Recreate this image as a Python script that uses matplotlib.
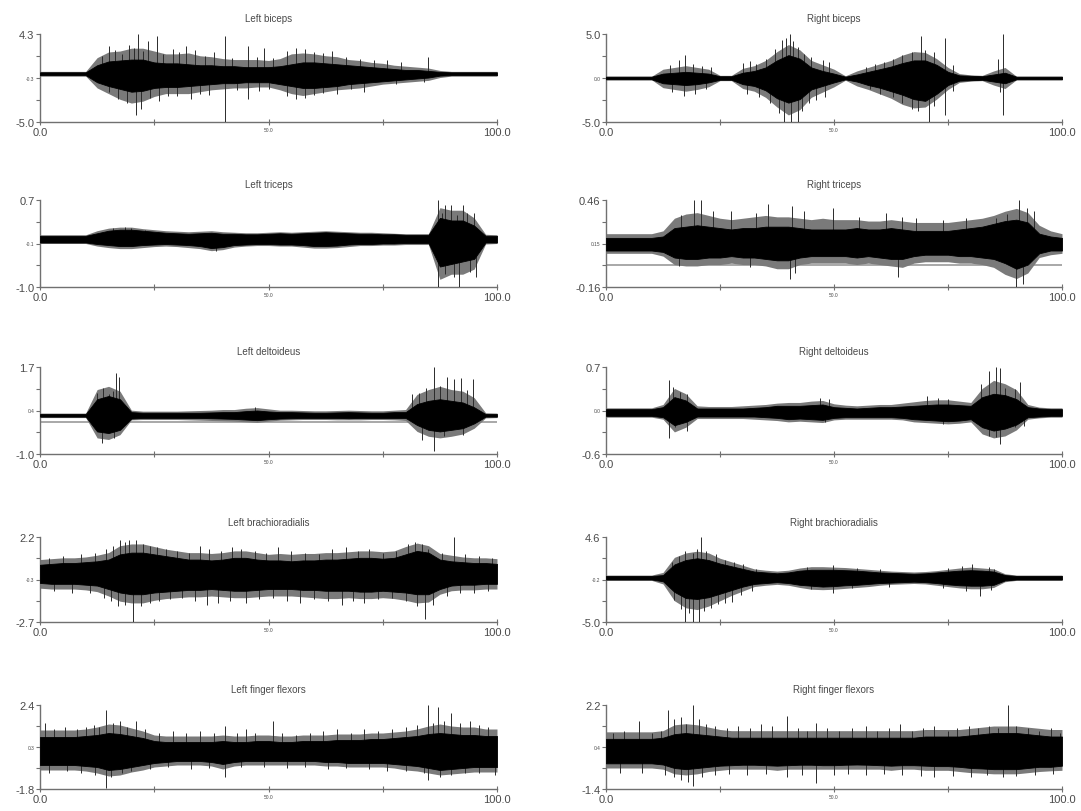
import numpy as np
import matplotlib.pyplot as plt

plt.rcParams['font.family'] = ['Liberation Sans', 'DejaVu Sans']

# time grid of the envelope readings (s)
t_grid = np.arange(0, 100.1, 2.5)

# ---- Left biceps
# dense black core
lbi_hi = [0.25, 0.25, 0.25, 0.25, 0.25, 1.0, 1.4, 1.5, 1.6, 1.6, 1.3, 1.2, 1.2, 1.1, 1.0, 1.0, 0.9, 0.9, 0.8, 0.8,
          0.8, 0.9, 1.1, 1.3, 1.3, 1.2, 1.1, 1.0, 0.9, 0.8, 0.7, 0.6, 0.5, 0.5, 0.4, 0.3, 0.25, 0.25, 0.25, 0.25, 0.25]
lbi_lo = [-0.05, -0.05, -0.05, -0.05, -0.05, -0.8, -1.2, -1.5, -1.8, -1.7, -1.4, -1.3, -1.3, -1.2, -1.1, -1.0, -0.9,
          -0.9, -0.8, -0.8, -0.8, -1.0, -1.2, -1.4, -1.4, -1.3, -1.2, -1.0, -0.9, -0.8, -0.7, -0.6, -0.5, -0.4, -0.3,
          -0.1, -0.05, -0.05, -0.05, -0.05, -0.05]
# grey fringe of fine hairs
lbi_out_hi = [0.35, 0.35, 0.35, 0.35, 0.35, 1.8, 2.4, 2.5, 2.8, 2.8, 2.5, 2.2, 2.2, 2.3, 2.0, 1.9, 1.7, 1.6, 1.6,
              1.6, 1.5, 1.7, 2.2, 2.3, 2.2, 2.0, 1.9, 1.6, 1.5, 1.3, 1.2, 1.0, 0.9, 0.8, 0.7, 0.45, 0.35, 0.35,
              0.35, 0.35, 0.35]
lbi_out_lo = [-0.15, -0.15, -0.15, -0.15, -0.15, -1.4, -2.0, -2.6, -3.0, -2.8, -2.3, -2.0, -2.0, -2.0, -1.8, -1.6,
              -1.5, -1.4, -1.4, -1.3, -1.3, -1.6, -2.0, -2.2, -2.0, -1.8, -1.6, -1.5, -1.4, -1.2, -1.0, -0.9, -0.8,
              -0.7, -0.6, -0.3, -0.15, -0.15, -0.15, -0.15, -0.15]
# isolated spikes
lbi_spk_t = [13.5, 15, 16.5, 18, 19.5, 20.5, 21.4, 22.5, 23.6, 25.7, 27, 29, 30.5, 32, 34, 36, 38, 40.5, 42, 45.6,
             47.5, 49, 51, 54, 56, 58, 60, 62, 64, 67, 70, 73, 76, 79, 85,
             15, 17, 19, 21, 22, 24, 26, 28, 30, 33, 35, 37, 40.5, 43, 45.6, 48, 50, 54, 56, 58, 60, 62, 65, 68, 71,
             78, 84]
lbi_spk_v = [2.0, 3.0, 2.6, 2.2, 3.1, 2.8, 4.3, 2.5, 3.6, 4.1, 2.2, 2.7, 2.4, 3.0, 2.6, 2.0, 2.4, 4.1, 1.8, 3.0,
             1.9, 2.8, 1.8, 2.5, 2.8, 2.7, 2.4, 2.3, 2.5, 1.9, 1.7, 1.5, 1.6, 1.3, 1.9,
             -1.8, -2.6, -3.0, -4.3, -3.6, -2.5, -2.8, -2.2, -2.3, -2.6, -2.0, -2.1, -5.0, -1.6, -2.6, -1.7, -1.5,
             -2.2, -2.6, -2.5, -2.1, -1.9, -2.0, -1.5, -1.8, -1.0, -0.8]

# ---- Right biceps
rbi_hi = [0.15, 0.15, 0.15, 0.15, 0.15, 0.5, 0.6, 0.7, 0.6, 0.5, 0.2, 0.2, 0.6, 0.8, 1.2, 2.0, 2.6, 2.2, 1.2, 0.8,
          0.5, 0.15, 0.4, 0.7, 1.0, 1.3, 1.7, 2.0, 2.0, 1.5, 0.7, 0.3, 0.25, 0.2, 0.4, 0.6, 0.15, 0.15, 0.15, 0.15, 0.15]
rbi_lo = [-0.15, -0.15, -0.15, -0.15, -0.15, -0.6, -0.7, -0.8, -0.7, -0.5, -0.2, -0.2, -0.7, -0.9, -1.4, -2.3, -2.8,
          -2.4, -1.3, -0.9, -0.5, -0.15, -0.4, -0.8, -1.1, -1.5, -1.9, -2.4, -2.6, -1.8, -0.8, -0.3, -0.25, -0.2, -0.4,
          -0.6, -0.15, -0.15, -0.15, -0.15, -0.15]
rbi_out_hi = [0.2, 0.2, 0.2, 0.2, 0.2, 1.0, 1.2, 1.4, 1.2, 1.0, 0.3, 0.3, 1.1, 1.4, 2.0, 3.0, 3.8, 3.2, 2.0, 1.5,
              1.0, 0.25, 0.8, 1.2, 1.6, 2.0, 2.6, 3.0, 2.9, 2.2, 1.2, 0.5, 0.35, 0.3, 0.8, 1.2, 0.2, 0.2, 0.2, 0.2, 0.2]
rbi_out_lo = [-0.2, -0.2, -0.2, -0.2, -0.2, -1.1, -1.3, -1.5, -1.3, -1.0, -0.3, -0.3, -1.2, -1.5, -2.2, -3.3, -4.2,
              -3.6, -2.2, -1.6, -1.0, -0.25, -0.9, -1.3, -1.8, -2.3, -3.0, -3.4, -3.3, -2.4, -1.3, -0.5, -0.35,
              -0.3, -0.8, -1.2, -0.2, -0.2, -0.2, -0.2, -0.2]
rbi_spk_t = [14, 16, 17.4, 19, 21, 23, 30, 31.5, 33, 35, 37, 38.5, 39.5, 40.3, 41, 42, 43.5, 45, 47.5, 49, 57, 59,
             61, 63, 65, 67, 69, 70, 72, 74.3, 76, 86, 87,
             14.5, 17, 19.5, 22, 31, 33.5, 36, 38, 39, 40.5, 42, 43, 44.5, 46, 48, 58, 60, 63, 65, 67, 68.5, 70.8, 72,
             74.3, 76, 86.5, 87]
rbi_spk_v = [1.5, 2.0, 2.6, 1.6, 1.4, 1.2, 1.7, 1.9, 1.6, 2.2, 3.3, 4.3, 4.6, 5.0, 4.2, 3.5, 2.7, 2.4, 2.1, 1.8, 1.2,
             1.6, 1.8, 2.2, 2.6, 3.0, 4.8, 3.2, 3.0, 4.6, 1.5, 2.2, 5.0,
             -1.6, -2.0, -1.8, -1.3, -1.8, -2.2, -2.8, -4.0, -5.0, -5.0, -5.0, -3.8, -2.8, -2.5, -2.2, -1.3, -1.8,
             -2.2, -2.8, -3.5, -3.8, -5.0, -3.2, -4.2, -1.5, -1.6, -4.2]

# ---- Left triceps
ltr_hi = [0.0, 0.0, 0.0, 0.0, 0.0, 0.05, 0.1, 0.12, 0.12, 0.1, 0.08, 0.06, 0.05, 0.04, 0.05, 0.06, 0.04, 0.04, 0.03,
          0.03, 0.04, 0.05, 0.04, 0.05, 0.06, 0.07, 0.06, 0.05, 0.04, 0.04, 0.03, 0.03, 0.02, 0.02, 0.02, 0.35, 0.3,
          0.3, 0.2, 0.0, 0.0]
ltr_lo = [-0.13, -0.13, -0.13, -0.13, -0.13, -0.16, -0.18, -0.2, -0.2, -0.18, -0.17, -0.16, -0.17, -0.18, -0.2,
          -0.24, -0.22, -0.18, -0.17, -0.16, -0.16, -0.17, -0.17, -0.18, -0.2, -0.2, -0.19, -0.17, -0.16, -0.16,
          -0.15, -0.15, -0.14, -0.14, -0.14, -0.6, -0.55, -0.5, -0.45, -0.13, -0.13]
ltr_out_hi = [0.02, 0.02, 0.02, 0.02, 0.02, 0.1, 0.15, 0.17, 0.17, 0.14, 0.12, 0.1, 0.09, 0.08, 0.09, 0.1, 0.08,
              0.07, 0.06, 0.06, 0.07, 0.08, 0.07, 0.08, 0.09, 0.1, 0.09, 0.08, 0.07, 0.07, 0.06, 0.05, 0.04, 0.04,
              0.04, 0.55, 0.5, 0.5, 0.35, 0.03, 0.02]
ltr_out_lo = [-0.15, -0.15, -0.15, -0.15, -0.15, -0.2, -0.23, -0.25, -0.25, -0.23, -0.21, -0.2, -0.21, -0.23,
              -0.25, -0.29, -0.27, -0.22, -0.2, -0.19, -0.19, -0.2, -0.2, -0.22, -0.24, -0.24, -0.23, -0.21, -0.19,
              -0.19, -0.18, -0.18, -0.17, -0.17, -0.17, -0.85, -0.75, -0.75, -0.65, -0.16, -0.15]
ltr_spk_t = [16, 18.5, 20, 23, 38.5, 87.1, 87.1, 88, 88.7, 88.7, 89.9, 90.5, 91.2, 91.6, 92.5, 93.5, 94, 95, 95.3]
ltr_spk_v = [0.15, 0.18, 0.15, 0.12, -0.3, 0.7, -1.0, 0.45, 0.6, -0.75, 0.6, -0.8, 0.4, -1.0, 0.6, 0.45, -0.7,
             0.45, -0.8]

# ---- Right triceps
rtr_hi = [0.19, 0.19, 0.19, 0.19, 0.19, 0.2, 0.26, 0.27, 0.28, 0.27, 0.26, 0.25, 0.26, 0.26, 0.27, 0.27, 0.27, 0.26,
          0.25, 0.25, 0.25, 0.25, 0.26, 0.25, 0.25, 0.26, 0.25, 0.24, 0.24, 0.24, 0.24, 0.25, 0.26, 0.27, 0.29, 0.31,
          0.32, 0.3, 0.22, 0.2, 0.19]
rtr_lo = [0.1, 0.1, 0.1, 0.1, 0.1, 0.09, 0.05, 0.04, 0.04, 0.05, 0.05, 0.06, 0.05, 0.05, 0.04, 0.03, 0.03, 0.05,
          0.06, 0.06, 0.06, 0.06, 0.05, 0.06, 0.05, 0.04, 0.04, 0.06, 0.07, 0.07, 0.07, 0.06, 0.06, 0.05, 0.04, 0.01,
          -0.03, 0.0, 0.08, 0.1, 0.1]
rtr_out_hi = [0.22, 0.22, 0.22, 0.22, 0.22, 0.24, 0.33, 0.36, 0.37, 0.35, 0.33, 0.32, 0.33, 0.34, 0.35, 0.34, 0.34,
              0.33, 0.32, 0.33, 0.32, 0.32, 0.32, 0.31, 0.31, 0.32, 0.31, 0.3, 0.3, 0.3, 0.3, 0.31, 0.32, 0.33,
              0.35, 0.38, 0.4, 0.37, 0.28, 0.24, 0.22]
rtr_out_lo = [0.08, 0.08, 0.08, 0.08, 0.08, 0.06, 0.0, -0.01, -0.01, 0.0, 0.0, 0.01, 0.0, 0.0, -0.01, -0.03, -0.03,
              0.0, 0.01, 0.01, 0.01, 0.01, 0.0, 0.01, 0.0, -0.01, -0.02, 0.01, 0.02, 0.02, 0.02, 0.01, 0.01, 0.0,
              -0.02, -0.07, -0.1, -0.06, 0.05, 0.07, 0.08]
rtr_spk_t = [16.5, 19.3, 20.8, 23.5, 27.5, 32.9, 35.5, 40.8, 43.4, 49.8, 55.5, 61.5, 65, 68, 74, 79, 85.6, 88,
             90.5, 92.3, 93.8, 16, 31.5, 40.4, 41.5, 64, 90, 91.5]
rtr_spk_v = [0.35, 0.46, 0.46, 0.38, 0.38, 0.37, 0.43, 0.42, 0.38, 0.4, 0.34, 0.37, 0.34, 0.33, 0.32, 0.33, 0.33,
             0.36, 0.46, 0.4, 0.38, -0.01, -0.02, -0.105, -0.06, -0.09, -0.16, -0.14]

# ---- Left deltoideus
lde_hi = [0.24, 0.24, 0.24, 0.24, 0.24, 0.7, 0.8, 0.7, 0.3, 0.28, 0.28, 0.28, 0.28, 0.28, 0.28, 0.29, 0.3, 0.3,
          0.33, 0.35, 0.32, 0.3, 0.3, 0.29, 0.28, 0.28, 0.29, 0.3, 0.29, 0.28, 0.28, 0.3, 0.3, 0.55, 0.65, 0.7, 0.65,
          0.6, 0.45, 0.24, 0.24]
lde_lo = [0.16, 0.16, 0.16, 0.16, 0.16, -0.3, -0.35, -0.25, 0.1, 0.12, 0.12, 0.12, 0.12, 0.12, 0.12, 0.11, 0.1,
          0.09, 0.07, 0.05, 0.08, 0.1, 0.11, 0.12, 0.12, 0.12, 0.12, 0.11, 0.12, 0.12, 0.12, 0.12, 0.12, -0.1, -0.25,
          -0.3, -0.25, -0.2, -0.05, 0.16, 0.16]
lde_out_hi = [0.27, 0.27, 0.27, 0.27, 0.27, 1.0, 1.1, 0.95, 0.36, 0.33, 0.33, 0.33, 0.33, 0.34, 0.35, 0.36, 0.38,
              0.38, 0.42, 0.44, 0.4, 0.36, 0.36, 0.35, 0.34, 0.34, 0.35, 0.36, 0.35, 0.34, 0.34, 0.36, 0.38, 0.85,
              1.0, 1.1, 1.0, 0.95, 0.75, 0.28, 0.27]
lde_out_lo = [0.13, 0.13, 0.13, 0.13, 0.13, -0.5, -0.55, -0.4, 0.06, 0.07, 0.07, 0.07, 0.07, 0.06, 0.05, 0.04, 0.03,
              0.02, 0.0, -0.02, 0.02, 0.05, 0.06, 0.07, 0.07, 0.07, 0.06, 0.06, 0.06, 0.07, 0.07, 0.06, 0.04, -0.3,
              -0.45, -0.5, -0.45, -0.38, -0.2, 0.12, 0.13]
lde_spk_t = [12.5, 13.7, 15.2, 15.9, 16.7, 17.3, 13.5, 16.2, 47, 81.5, 83, 84.5, 86.3, 87.5, 89.1, 90.6, 92.1, 93.5,
             94.7, 83.5, 86.3, 88.5, 92.5]
lde_spk_v = [0.9, 1.06, 0.85, 0.97, 1.52, 1.4, -0.66, -0.5, 0.45, 0.85, 0.9, 1.06, 1.7, 1.1, 1.39, 1.32, 1.37, 1.0,
             1.32, -0.55, -0.92, -0.45, -0.4]

# ---- Right deltoideus
rde_hi = [0.07, 0.07, 0.07, 0.07, 0.07, 0.1, 0.25, 0.2, 0.08, 0.08, 0.08, 0.08, 0.08, 0.09, 0.1, 0.12, 0.12, 0.12,
          0.13, 0.14, 0.1, 0.09, 0.08, 0.09, 0.1, 0.1, 0.11, 0.12, 0.13, 0.14, 0.14, 0.13, 0.12, 0.25, 0.3, 0.28,
          0.22, 0.1, 0.08, 0.07, 0.07]
rde_lo = [-0.03, -0.03, -0.03, -0.03, -0.03, -0.05, -0.17, -0.12, -0.04, -0.04, -0.04, -0.04, -0.04, -0.04, -0.05,
          -0.06, -0.08, -0.07, -0.08, -0.09, -0.06, -0.05, -0.05, -0.05, -0.05, -0.05, -0.06, -0.08, -0.09, -0.1,
          -0.11, -0.1, -0.08, -0.2, -0.25, -0.22, -0.16, -0.05, -0.04, -0.03, -0.03]
rde_out_hi = [0.09, 0.09, 0.09, 0.09, 0.09, 0.14, 0.38, 0.3, 0.12, 0.11, 0.11, 0.11, 0.12, 0.13, 0.14, 0.16, 0.17,
              0.17, 0.19, 0.2, 0.15, 0.13, 0.12, 0.13, 0.14, 0.14, 0.16, 0.18, 0.2, 0.21, 0.21, 0.19, 0.17, 0.38,
              0.5, 0.45, 0.36, 0.14, 0.1, 0.09, 0.09]
rde_out_lo = [-0.05, -0.05, -0.05, -0.05, -0.05, -0.08, -0.27, -0.2, -0.07, -0.07, -0.07, -0.07, -0.07, -0.08,
              -0.09, -0.1, -0.12, -0.11, -0.12, -0.13, -0.09, -0.08, -0.08, -0.08, -0.08, -0.08, -0.09, -0.12,
              -0.13, -0.14, -0.15, -0.14, -0.12, -0.3, -0.36, -0.33, -0.24, -0.08, -0.06, -0.05, -0.05]
rde_spk_t = [13.9, 14.8, 16.3, 17.8, 47, 49, 70.5, 72.8, 75, 82.3, 83.9, 85.6, 86.3, 87.4, 89.7, 90.8,
             13.9, 15.1, 17.8, 48, 74, 83.9, 85.6, 86.3, 89.7, 91.6]
rde_spk_v = [0.5, 0.4, 0.33, 0.3, 0.24, 0.22, 0.27, 0.24, 0.22, 0.44, 0.64, 0.7, 0.69, 0.39, 0.37, 0.47,
             -0.36, -0.2, -0.25, -0.12, -0.15, -0.335, -0.35, -0.45, -0.2, -0.18]

# ---- Left brachioradialis
lbr_hi = [0.6, 0.65, 0.7, 0.7, 0.75, 0.8, 0.9, 1.2, 1.3, 1.3, 1.2, 1.1, 1.0, 0.9, 0.9, 0.85, 0.9, 1.0, 1.0, 0.9,
          0.85, 0.85, 0.8, 0.85, 0.85, 0.9, 0.9, 0.95, 1.0, 1.0, 0.95, 1.0, 1.2, 1.4, 1.3, 0.9, 0.8, 0.75, 0.7, 0.7,
          0.65]
lbr_lo = [-0.45, -0.5, -0.5, -0.5, -0.55, -0.6, -0.8, -1.0, -1.1, -1.1, -1.0, -0.95, -0.9, -0.85, -0.85, -0.8,
          -0.85, -0.9, -0.9, -0.85, -0.8, -0.8, -0.8, -0.85, -0.85, -0.9, -0.9, -0.9, -0.95, -0.95, -0.9, -0.95,
          -1.0, -1.1, -1.1, -0.8, -0.6, -0.55, -0.55, -0.5, -0.5]
lbr_out_hi = [0.9, 0.95, 1.0, 1.0, 1.05, 1.15, 1.3, 1.7, 1.8, 1.8, 1.65, 1.5, 1.4, 1.3, 1.3, 1.25, 1.3, 1.4, 1.4,
              1.3, 1.2, 1.25, 1.2, 1.25, 1.25, 1.3, 1.3, 1.35, 1.4, 1.4, 1.35, 1.4, 1.65, 1.85, 1.7, 1.25, 1.15,
              1.05, 1.0, 1.0, 0.95]
lbr_out_lo = [-0.75, -0.8, -0.8, -0.8, -0.85, -0.95, -1.2, -1.5, -1.6, -1.6, -1.45, -1.35, -1.3, -1.25, -1.25,
              -1.2, -1.25, -1.3, -1.3, -1.25, -1.2, -1.2, -1.2, -1.25, -1.3, -1.35, -1.35, -1.3, -1.35, -1.35,
              -1.3, -1.35, -1.45, -1.6, -1.55, -1.1, -0.9, -0.85, -0.85, -0.8, -0.8]
lbr_spk_t = [2, 5, 9, 12, 14.5, 16, 17.5, 18.5, 19.5, 21, 22.5, 24, 25.5, 27.5, 30, 32.5, 35, 37, 39.5, 42, 44, 47,
             49.5, 52, 55, 58, 61, 64, 67, 69.5, 72, 75, 78, 80.5, 82, 83.5, 85, 88, 90.7, 93, 96, 99,
             3, 7, 11, 14, 15.5, 17, 18.5, 20.4, 22, 24, 26, 28.5, 31, 34, 36.5, 39, 41.5, 45, 48, 51, 54, 57, 60,
             63, 66, 68.5, 71, 74, 77, 80, 82.5, 84.3, 86, 89, 92, 95, 98]
lbr_spk_v = [1.0, 1.1, 1.2, 1.3, 1.5, 1.7, 2.0, 1.9, 2.0, 2.0, 1.8, 1.7, 1.6, 1.5, 1.4, 1.3, 1.7, 1.5, 1.4, 1.6,
             1.5, 1.4, 1.3, 1.6, 1.4, 1.3, 1.2, 1.5, 1.6, 1.4, 1.5, 1.3, 1.4, 1.8, 1.9, 1.8, 1.5, 1.3, 2.2, 1.2,
             1.1, 1.0,
             -0.9, -1.0, -1.0, -1.3, -1.5, -1.8, -1.7, -2.7, -1.8, -1.6, -1.5, -1.4, -1.3, -1.5, -1.7, -1.6, -1.5,
             -1.6, -1.4, -1.3, -1.5, -1.6, -1.4, -1.5, -1.7, -1.5, -1.6, -1.4, -1.3, -1.5, -1.8, -2.55, -1.7, -1.2,
             -1.0, -1.0, -0.9]

# ---- Right brachioradialis
rbr_hi = [0.2, 0.2, 0.2, 0.2, 0.2, 0.3, 1.5, 2.0, 2.2, 2.0, 1.6, 1.3, 1.0, 0.7, 0.6, 0.5, 0.6, 0.8, 0.9, 0.9, 0.9,
          0.85, 0.8, 0.7, 0.6, 0.55, 0.5, 0.45, 0.5, 0.6, 0.7, 0.8, 0.85, 0.8, 0.7, 0.3, 0.2, 0.2, 0.2, 0.2, 0.2]
rbr_lo = [-0.2, -0.2, -0.2, -0.2, -0.2, -0.4, -1.6, -2.3, -2.4, -2.2, -1.8, -1.4, -1.0, -0.7, -0.6, -0.5, -0.6,
          -0.8, -0.9, -1.0, -0.95, -0.85, -0.8, -0.7, -0.6, -0.55, -0.5, -0.45, -0.5, -0.6, -0.75, -0.85, -0.9,
          -0.9, -0.8, -0.3, -0.2, -0.2, -0.2, -0.2, -0.2]
rbr_out_hi = [0.3, 0.3, 0.3, 0.3, 0.3, 0.6, 2.3, 2.8, 3.0, 2.8, 2.2, 1.8, 1.4, 1.0, 0.85, 0.75, 0.85, 1.1, 1.25,
              1.25, 1.2, 1.15, 1.05, 0.95, 0.85, 0.75, 0.7, 0.65, 0.7, 0.8, 0.95, 1.1, 1.2, 1.1, 1.0, 0.45, 0.3,
              0.3, 0.3, 0.3, 0.3]
rbr_out_lo = [-0.3, -0.3, -0.3, -0.3, -0.3, -0.7, -2.6, -3.4, -3.6, -3.2, -2.6, -2.0, -1.5, -1.0, -0.85, -0.75,
              -0.85, -1.1, -1.3, -1.35, -1.3, -1.2, -1.1, -1.0, -0.85, -0.75, -0.7, -0.65, -0.7, -0.85, -1.0,
              -1.15, -1.25, -1.25, -1.1, -0.45, -0.3, -0.3, -0.3, -0.3, -0.3]
rbr_spk_t = [14.5, 16, 17.4, 19, 20, 20.8, 22, 24.2, 26, 28, 30, 33, 44, 49.8, 55, 60, 75, 78, 80.3, 84, 85,
             15, 16.5, 17.4, 18.3, 19, 20.3, 21.5, 23, 24.5, 26, 27.6, 29.5, 32, 45, 49.8, 54, 62, 74, 79, 82, 84.5]
rbr_spk_v = [1.8, 2.5, 3.05, 2.8, 3.2, 4.6, 3.0, 2.7, 2.0, 1.8, 1.5, 1.0, 1.2, 1.4, 1.1, 1.0, 1.1, 1.3, 1.6, 1.2,
             1.0,
             -2.5, -3.5, -5.0, -4.0, -5.0, -5.0, -3.8, -3.4, -3.0, -2.8, -2.7, -2.0, -1.5, -1.3, -1.75, -1.2, -1.0,
             -1.2, -1.5, -2.1, -1.4]

# ---- Left finger flexors
lff_hi = [0.8, 0.8, 0.8, 0.8, 0.85, 0.9, 1.0, 0.95, 0.85, 0.75, 0.6, 0.55, 0.55, 0.55, 0.55, 0.55, 0.6, 0.55,
          0.55, 0.6, 0.6, 0.55, 0.55, 0.6, 0.6, 0.6, 0.65, 0.65, 0.65, 0.7, 0.7, 0.75, 0.8, 0.85, 0.95, 1.0, 0.95,
          0.9, 0.9, 0.85, 0.85]
lff_lo = [-0.6, -0.6, -0.6, -0.6, -0.65, -0.7, -0.85, -0.8, -0.7, -0.6, -0.5, -0.45, -0.4, -0.4, -0.4, -0.45,
          -0.55, -0.45, -0.4, -0.4, -0.4, -0.4, -0.4, -0.4, -0.4, -0.45, -0.45, -0.5, -0.5, -0.5, -0.5, -0.55,
          -0.6, -0.65, -0.75, -0.85, -0.8, -0.75, -0.7, -0.7, -0.7]
lff_out_hi = [1.15, 1.15, 1.15, 1.15, 1.2, 1.3, 1.45, 1.4, 1.25, 1.1, 0.9, 0.85, 0.85, 0.85, 0.85, 0.85, 0.9, 0.85,
              0.85, 0.9, 0.9, 0.85, 0.85, 0.9, 0.9, 0.9, 0.95, 0.95, 0.95, 1.0, 1.0, 1.05, 1.1, 1.2, 1.35, 1.45,
              1.35, 1.3, 1.3, 1.2, 1.2]
lff_out_lo = [-0.85, -0.85, -0.85, -0.85, -0.9, -1.0, -1.15, -1.1, -0.95, -0.85, -0.7, -0.65, -0.6, -0.6, -0.6,
              -0.65, -0.8, -0.65, -0.6, -0.6, -0.6, -0.6, -0.6, -0.6, -0.6, -0.65, -0.65, -0.7, -0.7, -0.7, -0.7,
              -0.75, -0.85, -0.9, -1.0, -1.1, -1.05, -1.0, -0.95, -0.95, -0.95]
lff_spk_t = [1, 3, 5.5, 8, 10, 11.8, 13, 14.4, 16, 17.5, 19, 21, 23, 26, 29, 32, 35, 38, 40.4, 43, 45, 47, 50.9,
             53, 56, 59, 62, 65, 68, 71, 74, 77, 80, 82.5, 85, 86, 87, 88.5, 90, 92, 94, 96, 98,
             2, 6, 9, 12, 14.4, 15.5, 18, 20, 24, 28, 33, 37, 40.4, 44, 49, 54, 58, 63, 67, 72, 76, 80, 84, 85, 87.5,
             90, 93, 96, 99.5]
lff_spk_v = [1.5, 1.2, 1.3, 1.2, 1.3, 1.4, 1.3, 2.16, 1.5, 1.6, 1.3, 1.6, 1.2, 1.0, 1.1, 1.0, 1.1, 1.0, 1.34, 1.0,
             1.2, 1.0, 1.59, 1.0, 0.9, 1.0, 1.1, 1.2, 1.0, 1.2, 1.1, 1.2, 1.3, 1.4, 2.4, 1.5, 2.32, 1.6, 2.0, 1.5,
             1.6, 1.4, 1.3,
             -1.0, -0.9, -1.0, -1.1, -1.75, -1.2, -1.0, -0.9, -0.8, -0.7, -0.8, -0.75, -1.18, -0.7, -0.7, -0.75,
             -0.7, -0.8, -0.75, -0.8, -0.9, -0.9, -1.0, -1.34, -1.2, -1.1, -1.0, -1.0, -1.1]

# ---- Right finger flexors
rff_hi = [0.75, 0.75, 0.75, 0.75, 0.75, 0.8, 0.95, 1.0, 0.95, 0.9, 0.85, 0.8, 0.8, 0.8, 0.8, 0.8, 0.8, 0.8, 0.8,
          0.8, 0.8, 0.8, 0.8, 0.8, 0.8, 0.8, 0.8, 0.8, 0.85, 0.85, 0.85, 0.85, 0.9, 0.95, 1.0, 1.0, 1.0, 0.95, 0.9,
          0.85, 0.85]
rff_lo = [-0.3, -0.3, -0.3, -0.3, -0.3, -0.35, -0.5, -0.55, -0.5, -0.45, -0.4, -0.38, -0.36, -0.36, -0.38, -0.4,
          -0.38, -0.36, -0.36, -0.38, -0.38, -0.36, -0.35, -0.36, -0.38, -0.4, -0.38, -0.38, -0.4, -0.42, -0.42,
          -0.45, -0.5, -0.52, -0.55, -0.55, -0.55, -0.5, -0.45, -0.45, -0.4]
rff_out_hi = [1.05, 1.05, 1.05, 1.05, 1.05, 1.1, 1.35, 1.4, 1.35, 1.25, 1.15, 1.1, 1.1, 1.1, 1.1, 1.1, 1.1, 1.1,
              1.1, 1.1, 1.1, 1.1, 1.1, 1.1, 1.1, 1.1, 1.1, 1.1, 1.15, 1.15, 1.15, 1.15, 1.2, 1.25, 1.3, 1.3, 1.3,
              1.25, 1.2, 1.15, 1.15]
rff_out_lo = [-0.5, -0.5, -0.5, -0.5, -0.5, -0.55, -0.75, -0.8, -0.75, -0.65, -0.6, -0.55, -0.55, -0.55, -0.55,
              -0.6, -0.55, -0.55, -0.55, -0.55, -0.55, -0.55, -0.55, -0.55, -0.55, -0.6, -0.55, -0.55, -0.6, -0.6,
              -0.6, -0.65, -0.7, -0.72, -0.75, -0.75, -0.75, -0.7, -0.65, -0.62, -0.6]
rff_spk_t = [1.5, 4, 7.3, 10, 12, 13.7, 15, 16.5, 17.5, 19, 20.5, 22, 24, 26.5, 29, 31.5, 34, 36.5, 39.7, 42, 44,
             46, 48.5, 51, 54, 57, 59.5, 62, 64.5, 67, 69.5, 72, 75, 77, 79.5, 81.5, 84, 86, 88.2, 90, 92.5, 95,
             97.5, 99.5,
             3, 8, 13, 15, 16.5, 18, 19, 21, 24, 27, 31, 35, 39.7, 43, 46, 50, 53, 57, 61, 65, 69, 72, 76, 80, 83.5,
             87, 90, 94, 98]
rff_spk_v = [1.0, 1.1, 1.5, 1.0, 1.1, 1.99, 1.6, 1.7, 1.4, 2.2, 1.6, 1.4, 1.3, 1.2, 1.3, 1.2, 1.4, 1.3, 1.71, 1.2,
             1.1, 1.43, 1.2, 1.1, 1.2, 1.3, 1.1, 1.2, 1.4, 1.1, 1.2, 1.3, 1.1, 1.2, 1.3, 1.2, 1.3, 1.2, 2.2, 1.3,
             1.2, 1.1, 1.2, 1.0,
             -0.7, -0.7, -0.8, -0.9, -1.0, -1.08, -1.29, -0.9, -0.8, -0.75, -0.8, -0.75, -0.87, -0.8, -1.15, -0.8,
             -0.75, -0.8, -0.75, -0.8, -0.85, -0.9, -0.85, -0.9, -0.8, -0.9, -0.85, -0.8, -0.75]

titles = ['Left biceps', 'Right biceps', 'Left triceps', 'Right triceps', 'Left deltoideus', 'Right deltoideus',
          'Left brachioradialis', 'Right brachioradialis', 'Left finger flexors', 'Right finger flexors']
y_min = [-5.0, -5.0, -1.0, -0.16, -1.0, -0.6, -2.7, -5.0, -1.8, -1.4]
y_max = [4.3, 5.0, 0.7, 0.46, 1.7, 0.7, 2.2, 4.6, 2.4, 2.2]
y_labels = [['-5.0', '-0.3', '4.3'], ['-5.0', '0.0', '5.0'], ['-1.0', '-0.1', '0.7'], ['-0.16', '0.15', '0.46'],
            ['-1.0', '0.4', '1.7'], ['-0.6', '0.0', '0.7'], ['-2.7', '-0.3', '2.2'], ['-5.0', '-0.2', '4.6'],
            ['-1.8', '0.3', '2.4'], ['-1.4', '0.4', '2.2']]
baseline = [0.1, 0.0, -0.07, 0.15, 0.2, 0.02, 0.05, 0.0, 0.1, 0.25]
zero_line = [False, False, False, True, True, False, False, False, False, False]

env_hi = [lbi_hi, rbi_hi, ltr_hi, rtr_hi, lde_hi, rde_hi, lbr_hi, rbr_hi, lff_hi, rff_hi]
env_lo = [lbi_lo, rbi_lo, ltr_lo, rtr_lo, lde_lo, rde_lo, lbr_lo, rbr_lo, lff_lo, rff_lo]
out_hi = [lbi_out_hi, rbi_out_hi, ltr_out_hi, rtr_out_hi, lde_out_hi, rde_out_hi, lbr_out_hi, rbr_out_hi,
          lff_out_hi, rff_out_hi]
out_lo = [lbi_out_lo, rbi_out_lo, ltr_out_lo, rtr_out_lo, lde_out_lo, rde_out_lo, lbr_out_lo, rbr_out_lo,
          lff_out_lo, rff_out_lo]
spk_t = [lbi_spk_t, rbi_spk_t, ltr_spk_t, rtr_spk_t, lde_spk_t, rde_spk_t, lbr_spk_t, rbr_spk_t, lff_spk_t, rff_spk_t]
spk_v = [lbi_spk_v, rbi_spk_v, ltr_spk_v, rtr_spk_v, lde_spk_v, rde_spk_v, lbr_spk_v, rbr_spk_v, lff_spk_v, rff_spk_v]

# layout in pixels
W, H = 1081, 812
col_x = [40, 606]
col_w = [457, 456]
row_top = [35, 201, 368, 538, 706]
row_bot = [123, 288, 455, 623, 790]

axis_col = '#707070'
text_col = '#4a4a4a'

fig = plt.figure(figsize=(W / 100, H / 100), dpi=100)

for i in range(10):
    r, c = i // 2, i % 2
    ax = fig.add_axes([col_x[c] / W, 1 - row_bot[r] / H, col_w[c] / W, (row_bot[r] - row_top[r]) / H])

    if zero_line[i]:
        ax.axhline(0, color='#9a9a9a', lw=1.2, zorder=1)
    ax.fill_between(t_grid, out_lo[i], out_hi[i], color='#7a7a7a', lw=0, zorder=2)
    ax.vlines(spk_t[i], baseline[i], spk_v[i], color='#2a2a2a', lw=0.7, zorder=3)
    ax.fill_between(t_grid, env_lo[i], env_hi[i], color='black', lw=0.6, edgecolor='black', zorder=4)

    ax.set_xlim(0, 100)
    ax.set_ylim(y_min[i], y_max[i])

    for s in ['top', 'right']:
        ax.spines[s].set_visible(False)
    for s in ['left', 'bottom']:
        ax.spines[s].set_color(axis_col)
        ax.spines[s].set_linewidth(1.0)

    ax.set_xticks([0, 25, 50, 75, 100])
    ax.set_xticklabels(['0.0', '', '50.0', '', '100.0'])
    ax.set_yticks(np.linspace(y_min[i], y_max[i], 5))
    lo_l, mid_l, hi_l = y_labels[i]
    ax.set_yticklabels([lo_l, '', mid_l, '', hi_l])
    ax.tick_params(axis='y', direction='out', length=3, color=axis_col, labelcolor=text_col, labelsize=8, pad=1)
    ax.tick_params(axis='x', direction='inout', length=5, color=axis_col, labelcolor=text_col, labelsize=8, pad=1)
    ax.get_yticklabels()[2].set_fontsize(3.5)
    ax.get_xticklabels()[2].set_fontsize(3.5)

    ax.set_title(titles[i], fontsize=7, color=text_col, pad=9)

fig.savefig('out.png', dpi=100)
